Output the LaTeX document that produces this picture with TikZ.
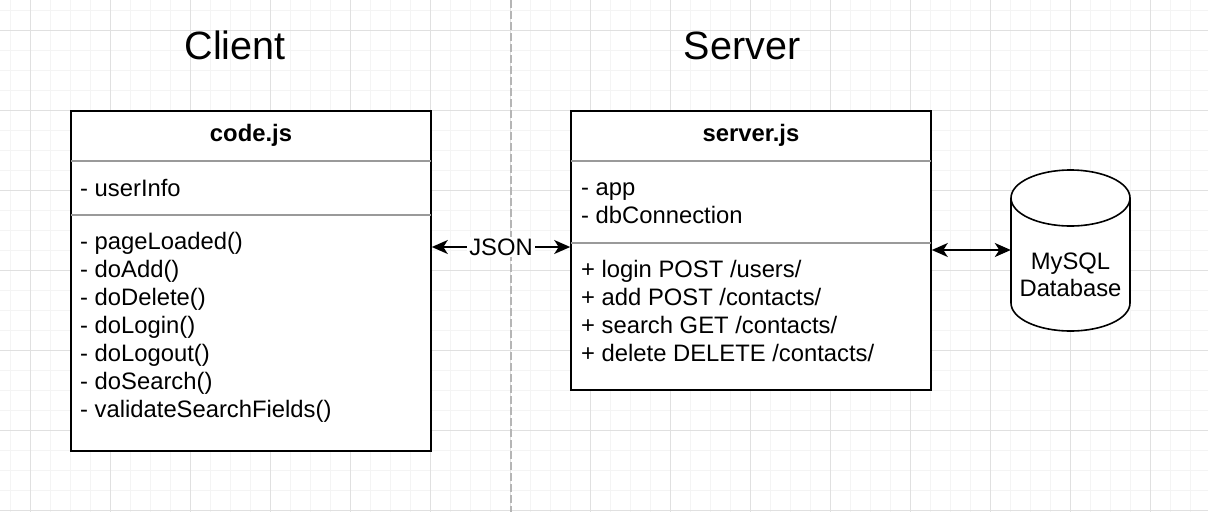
\documentclass[tikz,border=0pt]{standalone}
\usepackage{fontspec}
\setmainfont{Liberation Sans}
\usetikzlibrary{arrows.meta}
\definecolor{gridminor}{HTML}{F4F4F4}
\definecolor{gridmajor}{HTML}{E0E0E0}
\definecolor{sepgray}{HTML}{9A9A9A}
\definecolor{divgray}{HTML}{B5B5B5}
\begin{document}
\begin{tikzpicture}[x=1pt,y=-1pt,
  umlbox/.style={draw=black, line width=1.6pt, fill=white, inner sep=0pt},
  seprule/.style={draw=sepgray, line width=1.4pt, shorten <=0.8pt, shorten >=0.8pt},
  txt/.style={anchor=base west, inner sep=0pt, font=\fontsize{23.8}{28}\selectfont},
  hdr/.style={anchor=base, inner sep=0pt, font=\fontsize{23.8}{28}\selectfont\bfseries},
  ttl/.style={anchor=base, inner sep=0pt, font=\fontsize{39.5}{46}\selectfont},
  ctr/.style={anchor=base, inner sep=0pt, font=\fontsize{23.8}{28}\selectfont},
  conn/.style={line width=1.6pt, {Stealth[length=16pt,width=14pt,inset=4.5pt]}-{Stealth[length=16pt,width=14pt,inset=4.5pt]}},
]
\useasboundingbox (0,0) rectangle (1208,512);
\fill[white] (0,0) rectangle (1208,512);
% grid
\foreach \x in {10,30,...,1200} \draw[gridminor, line width=1pt] (\x,0) -- (\x,512);
\foreach \y in {10,30,...,510} \draw[gridminor, line width=1pt] (0,\y) -- (1208,\y);
\foreach \x in {30,110,...,1150} \draw[gridmajor, line width=1pt] (\x,0) -- (\x,512);
\foreach \y in {30,110,...,510} \draw[gridmajor, line width=1pt] (0,\y) -- (1208,\y);
% divider
\draw[divgray, line width=1.3pt, dash pattern=on 8pt off 3pt] (511,0) -- (511,512);
% titles
\node[ttl] (tclient) at (235,59.3) {Client};
\node[ttl] (tserver) at (742,59.3) {Server};
% code.js box
\node[umlbox, minimum width=360pt, minimum height=340pt] (code) at (251,281) {};
\coordinate (cs1) at (0,161);
\coordinate (cs2) at (0,215);
\draw[seprule] (code.west |- cs1) -- (code.east |- cs1);
\draw[seprule] (code.west |- cs2) -- (code.east |- cs2);
\node[hdr] (codeh) at (251,141.7) {code.js};
\node[txt] (cu) at (80,196) {- userInfo};
\node[txt] (cm1) at (80,249) {- pageLoaded()};
\node[txt] (cm2) at (80,277) {- doAdd()};
\node[txt] (cm3) at (80,305) {- doDelete()};
\node[txt] (cm4) at (80,333) {- doLogin()};
\node[txt] (cm5) at (80,361) {- doLogout()};
\node[txt] (cm6) at (80,389) {- doSearch()};
\node[txt] (cm7) at (80,417) {- validateSearchFields()};
% server.js box
\node[umlbox, minimum width=360pt, minimum height=279pt] (server) at (751,250.5) {};
\coordinate (ss1) at (0,161);
\coordinate (ss2) at (0,243);
\draw[seprule] (server.west |- ss1) -- (server.east |- ss1);
\draw[seprule] (server.west |- ss2) -- (server.east |- ss2);
\node[hdr] (serverh) at (751,141.7) {server.js};
\node[txt] (sa1) at (581,195) {- app};
\node[txt] (sa2) at (581,223.3) {- dbConnection};
\node[txt] (sm1) at (581,277) {+ login POST /users/};
\node[txt] (sm2) at (581,305) {+ add POST /contacts/};
\node[txt] (sm3) at (581,333) {+ search GET /contacts/};
\node[txt] (sm4) at (581,361) {+ delete DELETE /contacts/};
% database cylinder
\node[minimum width=119pt, minimum height=161pt, inner sep=0pt] (db) at (1070.5,250.5) {};
\draw[line width=1.6pt, fill=white] (1011,198) -- (1011,303)
  arc[start angle=180, end angle=360, x radius=59.5pt, y radius=28pt]
  -- (1130,198)
  arc[start angle=0, end angle=180, x radius=59.5pt, y radius=28pt] -- cycle;
\draw[line width=1.6pt] (1011,198) arc[start angle=180, end angle=360, x radius=59.5pt, y radius=28pt];
\node[ctr] (db1) at (1070.5,269.3) {MySQL};
\node[ctr] (db2) at (1070.5,296.7) {Database};
% connectors
\coordinate (jy) at (0,247);
\coordinate (dy) at (0,250);
\draw[conn] (code.east |- jy) -- (server.west |- jy)
  node[midway, fill=white, inner sep=2pt, font=\fontsize{23.8}{28}\selectfont] (json) {JSON};
\draw[conn] (server.east |- dy) -- (db.west |- dy);
\end{tikzpicture}
\end{document}
